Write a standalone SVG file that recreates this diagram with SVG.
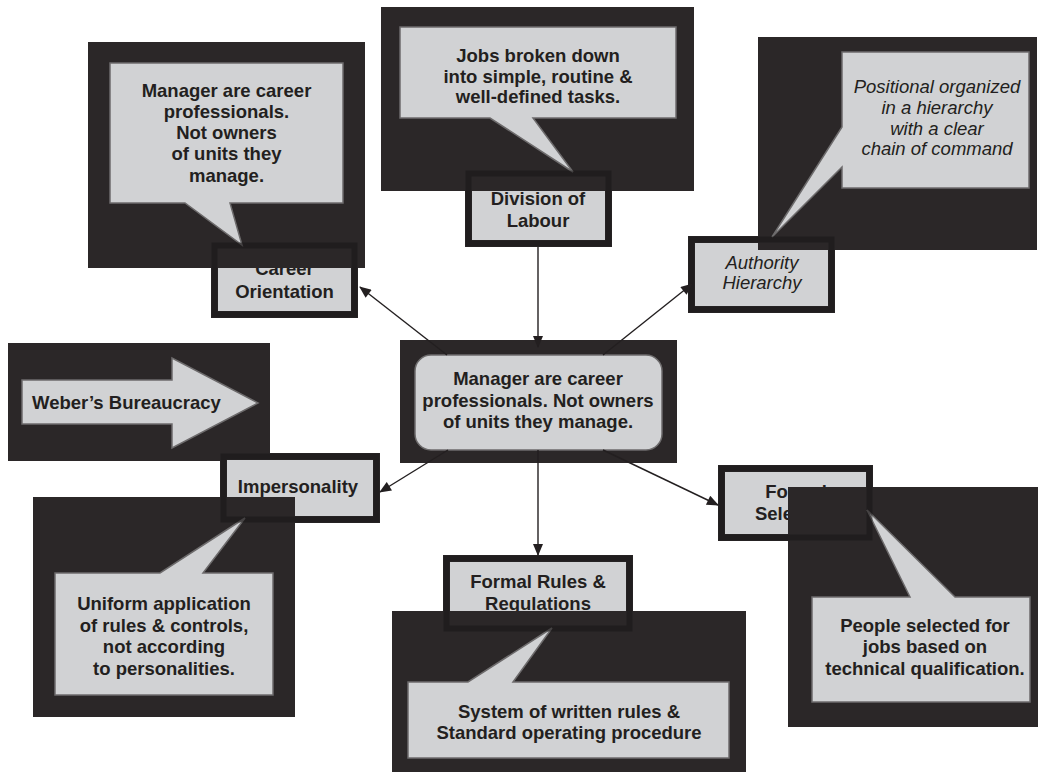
<svg xmlns="http://www.w3.org/2000/svg" width="1039" height="772" viewBox="0 0 1039 772">
<defs>
<style>
.dark{fill:#2b2728}
.light{fill:#d1d2d4;stroke:#6d6b6c;stroke-width:1.5}
.box{fill:#d1d2d4;stroke:#2b2728;stroke-width:7}
.frame{fill:none;stroke:#141112;stroke-width:6;stroke-opacity:0.45}
.t{font-family:"Liberation Sans",Arial,sans-serif;font-size:18.5px;font-weight:bold;fill:#231f20;text-anchor:middle}
.ti{font-style:italic;font-weight:normal}
.conn{stroke:#231f20;stroke-width:1.4;fill:none;marker-end:url(#ah)}
</style>
<marker id="ah" viewBox="0 0 12 10" refX="11" refY="5" markerWidth="13" markerHeight="10" markerUnits="userSpaceOnUse" orient="auto">
<path d="M0,0 L12,5 L0,10 Z" fill="#231f20"/>
</marker>
</defs>
<rect width="1039" height="772" fill="#ffffff"/>

<g id="weber">
<rect class="dark" x="8" y="343" width="262" height="118"/>
<path class="light" d="M22,380 H172 V358 L258,403 L172,448 V424 H22 Z"/>
<text class="t" x="32" y="409" style="text-anchor:start">Weber’s Bureaucracy</text>
</g>

<g id="center">
<rect class="dark" x="400" y="340" width="277" height="123"/>
<rect class="light" x="415" y="355" width="247" height="95" rx="16"/>
<text class="t" x="538" y="385">Manager are career</text>
<text class="t" x="538" y="407">professionals. Not owners</text>
<text class="t" x="538" y="428">of units they manage.</text>
</g>

<g id="career">
<rect class="box" x="214.5" y="245.5" width="140" height="69"/>
<text class="t" x="284.5" y="275">Career</text>
<text class="t" x="284.5" y="298">Orientation</text>
<rect class="dark" x="88" y="42" width="277" height="226"/>
<path class="light" d="M110,63 H343 V203 H230 L242,245 L185,203 H110 Z"/>
<text class="t" x="226.5" y="97">Manager are career</text>
<text class="t" x="226.5" y="118">professionals.</text>
<text class="t" x="226.5" y="139">Not owners</text>
<text class="t" x="226.5" y="160">of units they</text>
<text class="t" x="226.5" y="182">manage.</text>
<rect class="frame" x="214.5" y="245.5" width="140" height="69"/>
</g>

<g id="division">
<rect class="box" x="468.5" y="173.5" width="140" height="70"/>
<text class="t" x="538" y="205">Division of</text>
<text class="t" x="538" y="227">Labour</text>
<rect class="dark" x="381" y="7" width="313" height="184"/>
<path class="light" d="M400,27 H676 V118 H533 L573,172 L490,118 H400 Z"/>
<text class="t" x="538" y="62">Jobs broken down</text>
<text class="t" x="538" y="83">into simple, routine &amp;</text>
<text class="t" x="538" y="103">well-defined tasks.</text>
<rect class="frame" x="468.5" y="173.5" width="140" height="70"/>
</g>

<g id="authority">
<rect class="box" x="691.5" y="239.5" width="140" height="70"/>
<text class="t ti" x="762" y="269">Authority</text>
<text class="t ti" x="762" y="289">Hierarchy</text>
<rect class="dark" x="758" y="37" width="279" height="213"/>
<path class="light" d="M842,52 H1029 V188 H842 V167 L772,237 L842,127 Z"/>
<text class="t ti" x="937" y="93">Positional organized</text>
<text class="t ti" x="937" y="114">in a hierarchy</text>
<text class="t ti" x="937" y="135">with a clear</text>
<text class="t ti" x="937" y="155">chain of command</text>
<rect class="frame" x="691.5" y="239.5" width="140" height="70"/>
</g>

<g id="impersonality">
<rect class="box" x="223.5" y="456.5" width="153" height="63"/>
<text class="t" x="298" y="493">Impersonality</text>
<rect class="dark" x="33" y="497" width="262" height="220"/>
<path class="light" d="M55,573 H160 L245,518 L203,573 H273 V695 H55 Z"/>
<text class="t" x="164" y="610">Uniform application</text>
<text class="t" x="164" y="632">of rules &amp; controls,</text>
<text class="t" x="164" y="653">not according</text>
<text class="t" x="164" y="675">to personalities.</text>
<rect class="frame" x="223.5" y="456.5" width="153" height="63"/>
</g>

<g id="formal-rules">
<rect class="box" x="446.5" y="558.5" width="183" height="70"/>
<text class="t" x="538" y="588">Formal Rules &amp;</text>
<text class="t" x="538" y="610">Regulations</text>
<rect class="dark" x="392" y="611" width="354" height="161"/>
<path class="light" d="M408,682 H468 L552,628 L513,682 H729 V758 H408 Z"/>
<text class="t" x="569" y="718">System of written rules &amp;</text>
<text class="t" x="569" y="739">Standard operating procedure</text>
<rect class="frame" x="446.5" y="558.5" width="183" height="70"/>
</g>

<g id="formal-selection">
<rect class="box" x="721.5" y="468.5" width="148" height="69"/>
<text class="t" x="796" y="498">Formal</text>
<text class="t" x="796" y="520">Selection</text>
<rect class="dark" x="788" y="487" width="250" height="240"/>
<path class="light" d="M812,597 H910 L867,510 L955,597 H1030 V702 H812 Z"/>
<text class="t" x="925" y="632">People selected for</text>
<text class="t" x="925" y="653">jobs based on</text>
<text class="t" x="925" y="675">technical qualification.</text>
<rect class="frame" x="721.5" y="468.5" width="148" height="69"/>
</g>

<g id="connectors">
<line class="conn" x1="447" y1="355" x2="360" y2="287"/>
<line class="conn" x1="538" y1="247" x2="538" y2="347"/>
<line class="conn" x1="603" y1="355" x2="692" y2="284"/>
<line class="conn" x1="448" y1="450" x2="380" y2="492"/>
<line class="conn" x1="538" y1="450" x2="538" y2="555"/>
<line class="conn" x1="603" y1="450" x2="718" y2="505"/>
</g>
</svg>
